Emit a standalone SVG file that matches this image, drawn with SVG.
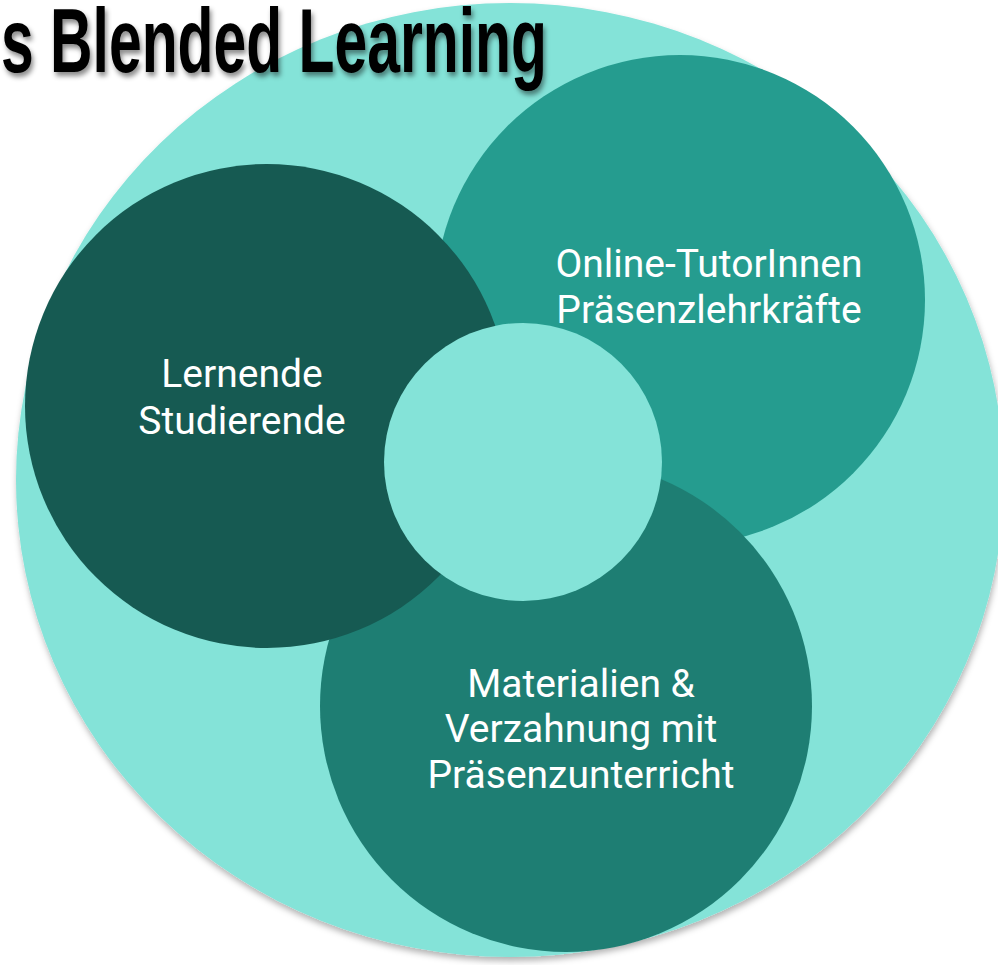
<svg xmlns="http://www.w3.org/2000/svg" width="998" height="965" viewBox="0 0 998 965">
  <defs>
    <filter id="bigShadow" x="-10%" y="-10%" width="120%" height="120%">
      <feDropShadow dx="1" dy="4" stdDeviation="3" flood-color="#000" flood-opacity="0.3"/>
    </filter>
    <filter id="titleShadow" x="-5%" y="-20%" width="110%" height="150%">
      <feDropShadow dx="2" dy="4" stdDeviation="2.5" flood-color="#000" flood-opacity="0.45"/>
    </filter>
  </defs>
  <style>
    .lbl { font-family: Roboto, "Noto Sans", "Liberation Sans", sans-serif; font-size: 39px; fill: #ffffff; text-anchor: middle; }
    .title { font-family: "Liberation Sans", Arial, sans-serif; font-weight: bold; font-size: 91px; fill: #000000; }
  </style>
  <rect width="998" height="965" fill="#ffffff"/>
  <g id="outer">
    <ellipse cx="510" cy="480" rx="494" ry="477" fill="#84E3D8" filter="url(#bigShadow)"/>
  </g>
  <g id="title">
    <text class="title" x="1" y="72" textLength="546" lengthAdjust="spacingAndGlyphs" filter="url(#titleShadow)">s Blended Learning</text>
  </g>
  <g id="node-online">
    <circle cx="680" cy="300" r="245" fill="#259C8F"/>
    <text class="lbl" x="709" y="277">Online-TutorInnen</text>
    <text class="lbl" x="709" y="323">Präsenzlehrkräfte</text>
  </g>
  <g id="node-materialien">
    <circle cx="566" cy="706" r="246" fill="#1E7E73"/>
    <text class="lbl" x="581" y="697">Materialien &amp;</text>
    <text class="lbl" x="581" y="742">Verzahnung mit</text>
    <text class="lbl" x="581" y="788">Präsenzunterricht</text>
  </g>
  <g id="node-lernende">
    <circle cx="267" cy="406" r="242" fill="#165A52"/>
    <text class="lbl" x="242" y="387">Lernende</text>
    <text class="lbl" x="242" y="434">Studierende</text>
  </g>
  <g id="node-center">
    <circle cx="523" cy="462" r="139" fill="#84E3D8"/>
  </g>
  <g id="connectors"/>
</svg>
